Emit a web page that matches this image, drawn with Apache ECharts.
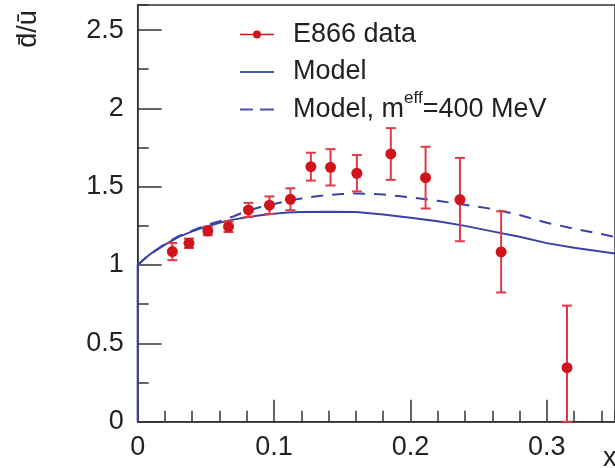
<!DOCTYPE html>
<html>
<head>
<meta charset="utf-8">
<script src="https://cdn.jsdelivr.net/npm/echarts@6/dist/echarts.min.js"></script>
<style>
html,body{margin:0;padding:0;background:#fff;}
#chart{width:615px;height:468px;}
</style>
</head>
<body>
<div id="chart"></div>
<script>
// E866 data points
const e866X   = [0.0254, 0.0376, 0.0514, 0.0666, 0.0812, 0.0966, 0.112, 0.127, 0.1414, 0.1607, 0.1856, 0.2111, 0.2363, 0.2665, 0.3148];
const e866Y   = [1.086, 1.139, 1.218, 1.245, 1.352, 1.382, 1.420, 1.628, 1.624, 1.586, 1.709, 1.558, 1.418, 1.084, 0.345];
const e866Err = [0.055, 0.030, 0.028, 0.034, 0.045, 0.056, 0.070, 0.089, 0.116, 0.116, 0.165, 0.197, 0.266, 0.259, 0.396];

// Model (solid)
const modelX = [0, 0, 0.005, 0.01, 0.02, 0.03, 0.04, 0.05, 0.06, 0.07, 0.08, 0.09, 0.10, 0.11, 0.12, 0.14, 0.16, 0.18, 0.20, 0.22, 0.24, 0.26, 0.28, 0.30, 0.32, 0.35];
const modelY = [0, 1.0, 1.04, 1.075, 1.13, 1.18, 1.215, 1.245, 1.27, 1.29, 1.305, 1.318, 1.328, 1.335, 1.339, 1.341, 1.338, 1.322, 1.302, 1.28, 1.25, 1.215, 1.18, 1.14, 1.11, 1.073];

// Model, m^eff = 400 MeV (dashed)
const modelEffX = [0, 0.005, 0.01, 0.02, 0.03, 0.04, 0.05, 0.06, 0.07, 0.08, 0.09, 0.10, 0.11, 0.12, 0.13, 0.14, 0.15, 0.16, 0.17, 0.18, 0.20, 0.22, 0.24, 0.26, 0.28, 0.30, 0.32, 0.35];
const modelEffY = [1.0, 1.04, 1.075, 1.135, 1.185, 1.22, 1.255, 1.28, 1.31, 1.345, 1.37, 1.39, 1.41, 1.425, 1.438, 1.447, 1.453, 1.457, 1.455, 1.45, 1.432, 1.41, 1.385, 1.358, 1.32, 1.27, 1.232, 1.18];

// Tick labels
const xTickValues = [0, 0.1, 0.2, 0.3];
const xTickLabels = ['0', '0.1', '0.2', '0.3'];
const yTickValues = [0, 0.5, 1, 1.5, 2, 2.5];
const yTickLabels = ['0', '0.5', '1', '1.5', '2', '2.5'];

const seriesNames = ['E866 data', 'Model', 'Model, meff=400 MeV'];

const FONT = 'Liberation Sans';
const TXT = '#222';
const AX = '#333';
const RED = '#d0141c';
const ERR = '#e03a46';
const BLUE = '#3a42a6';
const LEGBLUE = '#4a53b0';

function lookup(vals, labels, v) {
  for (let i = 0; i < vals.length; i++) if (Math.abs(vals[i] - v) < 1e-6) return labels[i];
  return '';
}

const chart = echarts.init(document.getElementById('chart'), null, {renderer: 'canvas'});

const axisLineStyle = {color: AX, width: 1.5};

const option = {
  animation: false,
  backgroundColor: '#fff',
  grid: {left: 137.7, top: 5, right: -1, bottom: 46.3, show: true, borderColor: AX, borderWidth: 1.5, backgroundColor: 'transparent'},
  xAxis: [
    {type: 'value', min: 0, max: 0.35, interval: 0.1, position: 'bottom',
     axisLine: {show: true, onZero: false, lineStyle: axisLineStyle},
     axisTick: {show: true, inside: true, length: 22, lineStyle: {color: AX, width: 1.5}},
     axisLabel: {showMaxLabel: false, fontSize: 27, fontFamily: FONT, color: TXT, margin: 12,
                 formatter: v => lookup(xTickValues, xTickLabels, v)},
     splitLine: {show: false}},
    {type: 'value', min: 0, max: 0.35, interval: 0.02, position: 'bottom',
     axisLine: {show: false, onZero: false},
     axisTick: {show: true, inside: true, length: 11, lineStyle: {color: AX, width: 1.5}},
     axisLabel: {show: false}, splitLine: {show: false}}
  ],
  yAxis: [
    {type: 'value', min: 0, max: 2.66, interval: 0.5, position: 'left',
     axisLine: {show: true, onZero: false, lineStyle: axisLineStyle},
     axisTick: {show: true, inside: true, length: 24, lineStyle: {color: AX, width: 1.5}},
     axisLabel: {showMaxLabel: false, fontSize: 27, fontFamily: FONT, color: TXT, margin: 14,
                 formatter: v => lookup(yTickValues, yTickLabels, v)},
     splitLine: {show: false}},
    {type: 'value', min: 0, max: 2.66, interval: 0.25, position: 'left',
     axisLine: {show: false, onZero: false},
     axisTick: {show: true, inside: true, length: 11, lineStyle: {color: AX, width: 1.5}},
     axisLabel: {show: false}, splitLine: {show: false}}
  ],
  legend: {
    orient: 'vertical', left: 240, top: 15, padding: 0, itemWidth: 34, itemHeight: 8, itemGap: -1.5,
    selectedMode: false,
    data: [
      {name: seriesNames[0], icon: 'path://M0,3.25H13V4.75H0Z M21,3.25H34V4.75H21Z M13,4A4,4 0 1 1 21,4A4,4 0 1 1 13,4Z', itemStyle: {color: RED}},
      {name: seriesNames[1], icon: 'path://M0,0H34V2H0Z', itemStyle: {color: LEGBLUE}},
      {name: seriesNames[2], icon: 'path://M0,0H13V2H0Z M20,0H34V2H20Z', itemStyle: {color: LEGBLUE}}
    ],
    formatter: function (name) {
      if (name === seriesNames[2]) return '{a|Model, m}{s|eff}{a|=400 MeV}';
      return '{a|' + name + '}{s| }';
    },
    textStyle: {
      padding: [0, 0, 0, 14],
      rich: {
        a: {fontSize: 27, lineHeight: 27, fontFamily: FONT, color: TXT},
        s: {fontSize: 17, lineHeight: 17, padding: [0, 0, 22, 0], fontFamily: FONT, color: TXT}
      }
    }
  },
  graphic: [
    {type: 'text', x: 29, y: 29, rotation: Math.PI / 2,
     style: {text: 'd\u0304/\u016B', font: '27px "Liberation Sans"', fill: TXT, align: 'center', verticalAlign: 'middle'}},
    {type: 'text', x: 603, y: 459,
     style: {text: 'x', font: '27px "Liberation Sans"', fill: TXT, align: 'left', verticalAlign: 'middle'}}
  ],
  series: [
    {name: seriesNames[1], type: 'line', xAxisIndex: 0, yAxisIndex: 0,
     data: modelX.map((x, i) => [x, modelY[i]]),
     showSymbol: false, symbol: 'none', smooth: false, z: 2,
     itemStyle: {color: BLUE},
     lineStyle: {color: BLUE, width: 2}},
    {name: seriesNames[2], type: 'line', xAxisIndex: 0, yAxisIndex: 0,
     data: modelEffX.map((x, i) => [x, modelEffY[i]]),
     showSymbol: false, symbol: 'none', smooth: false, z: 2,
     itemStyle: {color: BLUE},
     lineStyle: {color: BLUE, width: 2, type: [12, 9]}},
    {name: seriesNames[0], type: 'custom', xAxisIndex: 0, yAxisIndex: 0, z: 3,
     itemStyle: {color: RED},
     data: e866X.map((x, i) => [x, e866Y[i], e866Err[i]]),
     encode: {x: 0, y: 1},
     renderItem: function (params, api) {
       const x = api.value(0), y = api.value(1), e = api.value(2);
       const lo = Math.max(0, y - e), hi = y + e;
       const pHi = api.coord([x, hi]);
       const pLo = api.coord([x, lo]);
       const cw = 5;
       const st = {stroke: ERR, lineWidth: 2};
       return {type: 'group', children: [
         {type: 'line', shape: {x1: pHi[0], y1: pHi[1], x2: pLo[0], y2: pLo[1]}, style: st},
         {type: 'line', shape: {x1: pHi[0] - cw, y1: pHi[1], x2: pHi[0] + cw, y2: pHi[1]}, style: st},
         {type: 'line', shape: {x1: pLo[0] - cw, y1: pLo[1], x2: pLo[0] + cw, y2: pLo[1]}, style: st}
       ]};
     }},
    {name: seriesNames[0], type: 'scatter', xAxisIndex: 0, yAxisIndex: 0, z: 4,
     data: e866X.map((x, i) => [x, e866Y[i]]),
     symbol: 'circle', symbolSize: 11,
     itemStyle: {color: RED, opacity: 1}}
  ]
};
chart.setOption(option);
</script>
</body>
</html>
